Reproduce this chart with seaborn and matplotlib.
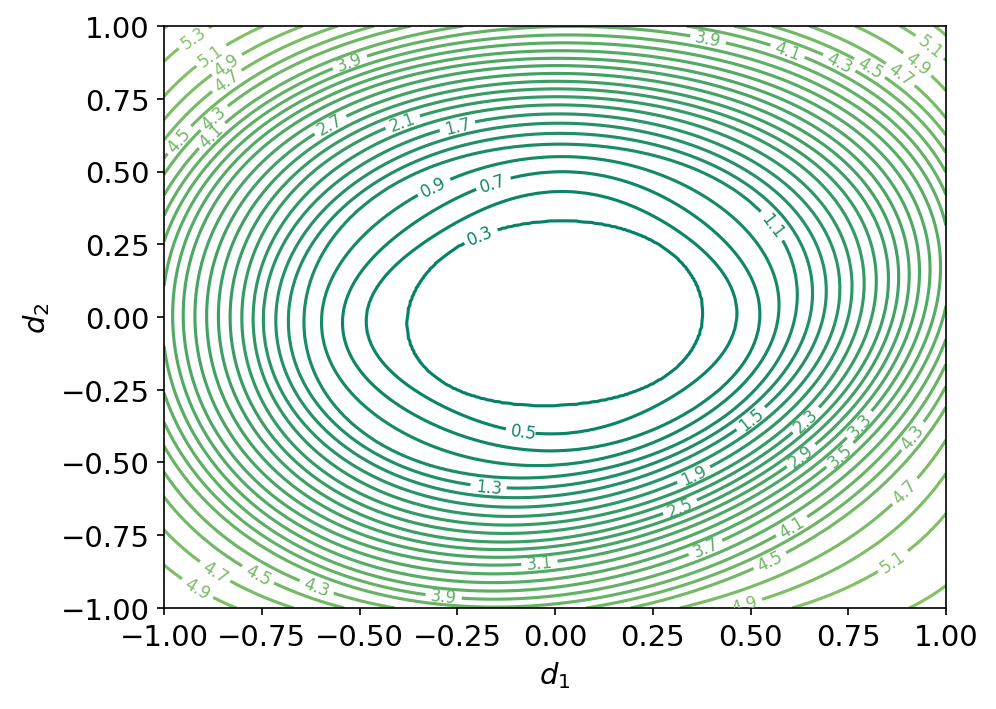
import numpy as np
import matplotlib
matplotlib.use("Agg")
import matplotlib.pyplot as plt
from matplotlib.path import Path
import seaborn as sns

# contour levels used for the loss landscape
level_start, level_stop, level_step = 0.1, 10, 0.2
loss_centre = 0.15  # value at the centre of the basin (below the first drawn level)

# contour values crossing the half-axes
axis_levels = [0.3, 0.5, 0.7, 0.9, 1.1, 1.3, 1.5, 1.7, 1.9, 2.1,
               2.3, 2.5, 2.7, 2.9, 3.1, 3.3, 3.5, 3.7, 3.9, 4.1]
# distance from the centre where each level crosses the axis
right_r = [0.379, 0.465, 0.524, 0.571, 0.614, 0.652, 0.686, 0.720, 0.750, 0.780,
           0.810, 0.840, 0.865, 0.891, 0.916, 0.942, 0.968, 0.993]
up_r = [0.331, 0.431, 0.499, 0.551, 0.594, 0.631, 0.666, 0.698, 0.729, 0.757,
        0.784, 0.810, 0.837, 0.864, 0.889, 0.915, 0.942, 0.969, 0.998]
left_r = [0.379, 0.483, 0.543, 0.597, 0.642, 0.682, 0.714, 0.746, 0.772, 0.801,
          0.831, 0.861, 0.891, 0.921, 0.951, 0.978]
down_r = [0.305, 0.402, 0.460, 0.509, 0.548, 0.582, 0.614, 0.646, 0.677, 0.706,
          0.734, 0.763, 0.788, 0.814, 0.840, 0.870, 0.900, 0.929, 0.958, 0.986]

# crossings with the diagonals: the level passes through (+-t, +-t)
ur_levels = [0.3, 1.1, 2.1, 3.1, 4.1, 4.5, 4.7, 4.9, 5.1, 5.3]
ur_t = [0.257, 0.447, 0.572, 0.680, 0.789, 0.833, 0.859, 0.899, 0.945, 0.985]
ul_levels = [0.3, 1.1, 2.1, 3.1, 4.1, 4.3, 4.5, 4.7, 4.9, 5.1, 5.3]
ul_t = [0.245, 0.436, 0.559, 0.665, 0.755, 0.780, 0.800, 0.826, 0.855, 0.890, 0.943]
ll_levels = [0.3, 1.1, 2.1, 3.1, 4.1, 4.5, 4.7, 4.9, 5.1]
ll_t = [0.251, 0.441, 0.560, 0.667, 0.770, 0.830, 0.873, 0.925, 1.010]
lr_levels = [0.3, 0.7, 1.1, 1.5, 2.1, 2.5, 3.1, 3.7, 4.1, 4.5, 4.9, 5.1, 5.3]
lr_t = [0.238, 0.333, 0.385, 0.423, 0.484, 0.518, 0.568, 0.622, 0.667, 0.712,
        0.800, 0.852, 0.960]

# inline labels shown in the figure: value and where it sits
label_values = [5.3, 5.1, 4.9, 4.7, 4.3, 4.1, 4.5, 3.9, 2.7, 2.1, 1.7,
                0.9, 0.7, 0.3, 1.1, 0.5, 1.3,
                1.5, 2.3, 3.3, 2.9, 3.5, 4.3, 1.9, 2.5, 4.7, 4.1, 3.7, 4.5, 5.1, 4.9,
                3.1, 3.9, 4.3, 4.5, 4.7, 4.9,
                3.9, 4.1, 4.3, 4.5, 4.7, 4.9, 5.1]
label_spots = [(-0.925, 0.961), (-0.882, 0.898), (-0.840, 0.869), (-0.840, 0.812),
               (-0.865, 0.680), (-0.882, 0.629), (-0.980, 0.623), (-0.519, 0.863),
               (-0.555, 0.639), (-0.376, 0.646), (-0.248, 0.646),
               (-0.315, 0.454), (-0.161, 0.464), (-0.192, 0.282), (0.504, 0.285),
               (-0.079, -0.395), (-0.171, -0.574),
               (0.503, -0.351), (0.639, -0.351), (0.771, -0.368), (0.631, -0.477),
               (0.725, -0.471), (0.904, -0.402), (0.362, -0.557), (0.324, -0.660),
               (0.874, -0.585), (0.601, -0.711), (0.388, -0.803), (0.550, -0.838),
               (0.861, -0.838), (0.482, -0.986),
               (-0.038, -0.842), (-0.281, -0.945), (-0.606, -0.918), (-0.762, -0.893),
               (-0.870, -0.876), (-0.916, -0.935),
               (0.396, 0.966), (0.601, 0.921), (0.729, 0.880), (0.806, 0.859),
               (0.882, 0.835), (0.928, 0.869), (0.959, 0.931)]


def profile(lv, rr, fine):
    # radius of each fine level along one direction (linear past the last reading)
    lv = np.asarray(lv[:len(rr)], float)
    rr = np.asarray(rr, float)
    out = np.interp(fine, lv, rr)
    slope = (rr[-1] - rr[-2]) / (lv[-1] - lv[-2])
    hi = fine > lv[-1]
    out[hi] = rr[-1] + slope * (fine[hi] - lv[-1])
    return out


fine = np.arange(0.3, 6.6, 0.05)
s2 = np.sqrt(2)
# directions at 0, 45, 90, ... 315 degrees
R = np.array([
    profile(axis_levels, right_r, fine),
    profile(ur_levels, np.array(ur_t) * s2, fine),
    profile(axis_levels, up_r, fine),
    profile(ul_levels, np.array(ul_t) * s2, fine),
    profile(axis_levels, left_r, fine),
    profile(ll_levels, np.array(ll_t) * s2, fine),
    profile(axis_levels, down_r, fine),
    profile(lr_levels, np.array(lr_t) * s2, fine),
])

# trigonometric interpolation of 1/r^2 between the 8 directions
F = 1.0 / R ** 2
th_j = np.arange(8) * np.pi / 4
a0 = F.mean(axis=0)
am = [(np.cos(m * th_j)[:, None] * F).sum(axis=0) / 4 for m in (1, 2, 3)]
bm = [(np.sin(m * th_j)[:, None] * F).sum(axis=0) / 4 for m in (1, 2, 3)]
a4 = (np.cos(4 * th_j)[:, None] * F).sum(axis=0) / 8

d1 = np.linspace(-1, 1, 401)
d2 = np.linspace(-1, 1, 401)
X, Y = np.meshgrid(d1, d2)
r = np.hypot(X, Y)
th = np.arctan2(Y, X)
cs_m = [np.cos(m * th) for m in (1, 2, 3)]
sn_m = [np.sin(m * th) for m in (1, 2, 3)]
c4 = np.cos(4 * th)

Z = np.full(r.shape, np.nan)
prev_r = np.zeros(r.shape)
prev_L = loss_centre
for k, L in enumerate(fine):
    inv = a0[k] + a4[k] * c4
    for m in range(3):
        inv = inv + am[m][k] * cs_m[m] + bm[m][k] * sn_m[m]
    rk = 1.0 / np.sqrt(np.maximum(inv, 1e-6))
    mask = np.isnan(Z) & (r <= rk)
    den = np.maximum(rk - prev_r, 1e-9)
    Z[mask] = prev_L + (L - prev_L) * (r[mask] - prev_r[mask]) / den[mask]
    prev_r = np.maximum(rk, prev_r)
    prev_L = L
Z[np.isnan(Z)] = fine[-1]

cmap = sns.color_palette("summer", as_cmap=True)
levels = np.arange(level_start, level_stop, level_step)

fig = plt.figure(figsize=(6.64, 4.733), dpi=150)
ax = fig.add_axes([0.1647, 0.1423, 0.7851, 0.8197])
cs = ax.contour(X, Y, Z, levels=levels, cmap=cmap, vmin=levels.min(), vmax=levels.max())

# snap each label spot onto the line of its own level
paths = cs.get_paths()
manual = []
for val, (sx, sy) in zip(label_values, label_spots):
    i = int(np.argmin(np.abs(cs.levels - val)))
    p = paths[i]
    v = p.vertices
    if p.codes is not None:
        v = v[p.codes != Path.CLOSEPOLY]
    if len(v) == 0:
        continue
    j = int(np.argmin((v[:, 0] - sx) ** 2 + (v[:, 1] - sy) ** 2))
    manual.append((v[j, 0], v[j, 1]))
ax.clabel(cs, inline=True, fontsize=8, fmt="%.1f", manual=manual)

ticks = [-1.0, -0.75, -0.5, -0.25, 0.0, 0.25, 0.5, 0.75, 1.0]
ax.set_xticks(ticks)
ax.set_yticks(ticks)
ax.tick_params(labelsize=14)
ax.set_xlabel("$d_1$", fontsize=14)
ax.set_ylabel("$d_2$", fontsize=14)
ax.set_xlim(-1, 1)
ax.set_ylim(-1, 1)

fig.savefig("out.png", dpi=150)
